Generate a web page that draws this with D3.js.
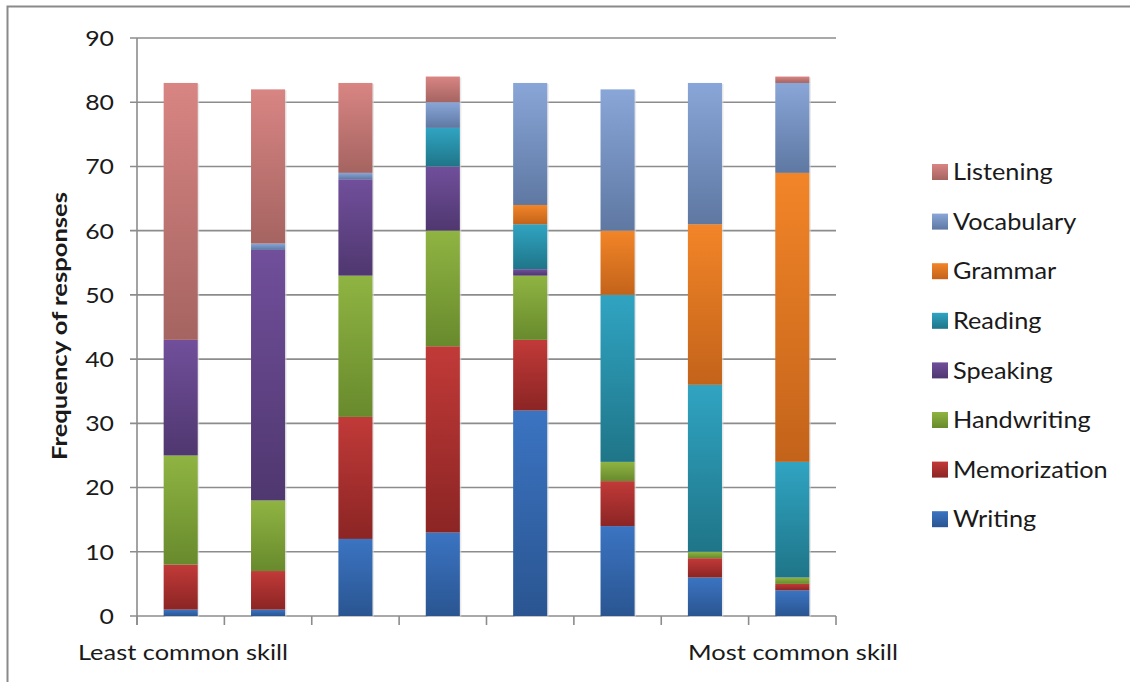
<!DOCTYPE html>
<html>
<head>
<meta charset="utf-8">
<script src="https://cdn.jsdelivr.net/npm/d3@7"></script>
<style>
  html, body { margin: 0; padding: 0; background: #fff; }
  svg { display: block; }
  text { font-family: Lato, "Open Sans", sans-serif; fill: #1a1a1a; }
</style>
</head>
<body>
<svg id="chart" width="1130" height="682"></svg>
<script>
// ---- data ----
const categories = ["1", "2", "3", "4", "5", "6", "7", "8"];
const seriesNames = ["Writing", "Memorization", "Handwriting", "Speaking", "Reading", "Grammar", "Vocabulary", "Listening"];
const writing      = [1, 1, 12, 13, 32, 14, 6, 4];
const memorization = [7, 6, 19, 29, 11, 7, 3, 1];
const handwriting  = [17, 11, 22, 18, 10, 3, 1, 1];
const speaking     = [18, 39, 15, 10, 1, 0, 0, 0];
const reading      = [0, 0, 0, 6, 7, 26, 26, 18];
const grammar      = [0, 0, 0, 0, 3, 10, 25, 45];
const vocabulary   = [0, 1, 1, 4, 19, 22, 22, 14];
const listening    = [40, 24, 14, 4, 0, 0, 0, 1];
const yTicks = [0, 10, 20, 30, 40, 50, 60, 70, 80, 90];
const xEndLabels = ["Least common skill", "Most common skill"];
const yTitle = "Frequency of responses";

const seriesValues = {
  Writing: writing, Memorization: memorization, Handwriting: handwriting,
  Speaking: speaking, Reading: reading, Grammar: grammar,
  Vocabulary: vocabulary, Listening: listening
};
const colors = {
  Writing:      ["#3b74c2", "#2a5591"],
  Memorization: ["#c13a38", "#8b2524"],
  Handwriting:  ["#8fb442", "#688a2d"],
  Speaking:     ["#714f9b", "#4f376f"],
  Reading:      ["#30a4c2", "#1f7588"],
  Grammar:      ["#f28528", "#c3631a"],
  Vocabulary:   ["#89a6d8", "#5e78a2"],
  Listening:    ["#d88583", "#a56461"]
};

const table = categories.map((c, i) => {
  const row = { cat: c };
  seriesNames.forEach(s => row[s] = seriesValues[s][i]);
  return row;
});

const svg = d3.select("#chart");
const margin = { left: 137, right: 836, top: 38, bottom: 616 };

// border
svg.append("path")
  .attr("d", "M7.5,682 L7.5,6.5 L1130,6.5")
  .attr("fill", "none").attr("stroke", "#8a8a8a").attr("stroke-width", 2);

// gradients
const defs = svg.append("defs");
seriesNames.forEach(s => {
  const g = defs.append("linearGradient").attr("id", "g-" + s)
    .attr("x1", 0).attr("y1", 0).attr("x2", 0).attr("y2", 1);
  g.append("stop").attr("offset", "0%").attr("stop-color", colors[s][0]);
  g.append("stop").attr("offset", "100%").attr("stop-color", colors[s][1]);
});

const x = d3.scaleBand().domain(categories)
  .range([margin.left, margin.right]).paddingInner(0.61).paddingOuter(0.305);
const y = d3.scaleLinear().domain([0, 90]).range([margin.bottom, margin.top]);

// gridlines
svg.append("g").selectAll("line").data(yTicks).join("line")
  .attr("x1", margin.left - 7).attr("x2", margin.right)
  .attr("y1", d => y(d)).attr("y2", d => y(d))
  .attr("stroke", "#8c8c8c").attr("stroke-width", 1.6);

// y axis labels
svg.append("g").selectAll("text").data(yTicks).join("text")
  .attr("transform", d => "translate(114," + y(d) + ") scale(1.13,1)")
  .attr("dy", "0.36em")
  .attr("text-anchor", "end").attr("font-size", 22).text(d => d);

// axes lines
svg.append("line").attr("x1", margin.left).attr("x2", margin.left)
  .attr("y1", margin.top).attr("y2", margin.bottom + 9)
  .attr("stroke", "#8c8c8c").attr("stroke-width", 1.6);

// category boundary ticks
const step = x.step();
const boundaries = d3.range(categories.length + 1).map(i => margin.left + i * step);
svg.append("g").selectAll("line").data(boundaries).join("line")
  .attr("x1", d => d).attr("x2", d => d)
  .attr("y1", margin.bottom).attr("y2", margin.bottom + 9)
  .attr("stroke", "#8c8c8c").attr("stroke-width", 1.6);

// stacks
const stack = d3.stack().keys(seriesNames);
const layers = stack(table);

// bar shadow
svg.append("g").selectAll("rect").data(table).join("rect")
  .attr("x", d => x(d.cat) + 1.5)
  .attr("y", d => y(d3.sum(seriesNames, s => d[s])) + 1)
  .attr("width", x.bandwidth())
  .attr("height", d => y(0) - y(d3.sum(seriesNames, s => d[s])))
  .attr("fill", "#d8d8d8").attr("opacity", 0.6);

svg.append("g").selectAll("g").data(layers).join("g")
  .attr("fill", d => "url(#g-" + d.key + ")")
  .selectAll("rect").data(d => d.filter(p => p[1] - p[0] > 0)).join("rect")
  .attr("x", d => x(d.data.cat))
  .attr("y", d => y(d[1]))
  .attr("width", x.bandwidth())
  .attr("height", d => y(d[0]) - y(d[1]));

// x end labels
svg.append("text").attr("x", 78).attr("y", 660)
  .attr("font-size", 21).attr("textLength", 210).attr("lengthAdjust", "spacingAndGlyphs")
  .text(xEndLabels[0]);
svg.append("text").attr("x", 688).attr("y", 660)
  .attr("font-size", 21).attr("textLength", 210).attr("lengthAdjust", "spacingAndGlyphs")
  .text(xEndLabels[1]);

// y title
svg.append("text")
  .attr("transform", "translate(67," + 326 + ") rotate(-90)")
  .attr("text-anchor", "middle").attr("font-size", 21).attr("font-weight", "bold")
  .attr("textLength", 268).attr("lengthAdjust", "spacingAndGlyphs")
  .text(yTitle);

// legend
const legendOrder = seriesNames.slice().reverse();
const lg = svg.append("g").selectAll("g").data(legendOrder).join("g")
  .attr("transform", (d, i) => "translate(932," + (172 + i * 49.6) + ")");
lg.append("rect").attr("x", 0).attr("y", -8).attr("width", 16).attr("height", 16)
  .attr("fill", d => "url(#g-" + d + ")");
lg.append("text").attr("transform", "translate(21,0) scale(1.1,1)").attr("dy", "0.36em")
  .attr("font-size", 23).text(d => d);
</script>
</body>
</html>
